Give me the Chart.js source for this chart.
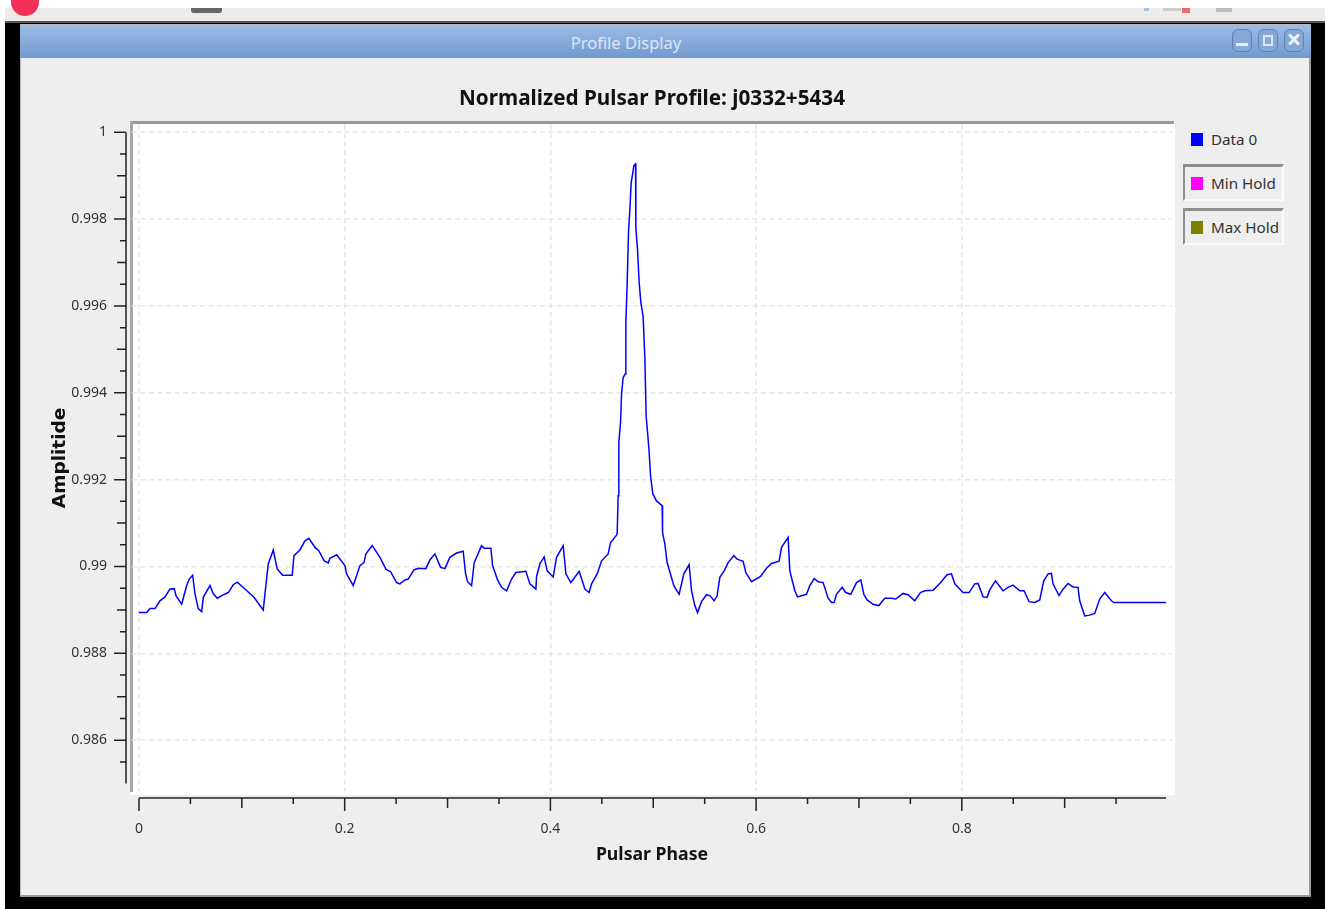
<!DOCTYPE html>
<html>
<head>
<meta charset="utf-8">
<title>Profile Display</title>
<script src="https://cdn.jsdelivr.net/npm/chart.js@4"></script>
<style>
  html, body { margin: 0; padding: 0; background: #000; overflow: hidden; }
  #screen { position: relative; width: 1325px; height: 909px; background: #000; font-family: "Noto Sans", sans-serif; overflow: hidden; }
  #screen div { position: absolute; box-sizing: border-box; }
  #chart { position: absolute; left: 0; top: 0; }
  .win-btn { top: 29px; height: 23px; border: 1.5px solid #5d83b5; border-radius: 6px; background: #86a8d6; }
  .legend-text { left: 1211px; font-size: 15.2px; line-height: 22px; color: #333; white-space: nowrap; }
  .legend-swatch { left: 1191px; width: 12px; height: 13px; }
  .legend-frame { left: 1183px; width: 101px; height: 37px; border-style: solid; border-width: 3px 2px 2px 2px; border-color: #8f8f8f #fafafa #fafafa #8f8f8f; }
</style>
</head>
<body>
<div id="screen">
  <div style="left:5px;top:0;width:1320px;height:8px;background:#fff"></div>
  <div style="left:0;top:0;width:5px;height:909px;background:#fff"></div>
  <div style="left:5px;top:8px;width:1320px;height:13px;background:#ecebe9"></div>
  <div style="left:5px;top:21px;width:1320px;height:2px;background:#555"></div>
  <div style="left:11px;top:0;width:28px;height:16px;border-radius:0 0 14px 14px;background:#f2305a"></div>
  <div style="left:191px;top:8px;width:31px;height:5px;background:#666;border-radius:0 0 3px 3px"></div>
  <div style="left:1144px;top:8px;width:5px;height:3px;background:#a9c3e6"></div>
  <div style="left:1163px;top:8px;width:18px;height:3px;background:#ccc"></div>
  <div style="left:1182px;top:8px;width:8px;height:5px;background:#e66"></div>
  <div style="left:1216px;top:8px;width:16px;height:4px;background:#bbb"></div>

  <div style="left:20px;top:24px;width:1291px;height:873px;background:#eee;border:1px solid #bbb;border-bottom:2px solid #999;border-right:2px solid #999"></div>
  <div style="left:20px;top:25px;width:1291px;height:33px;background:linear-gradient(#9dbce6,#7299d0)"></div>
  <div style="left:20px;top:31px;width:1212px;text-align:center;font-size:16.5px;line-height:24px;color:#dce6f2">Profile Display</div>
  <div class="win-btn" style="left:1232px;width:20px"></div>
  <div style="left:1236px;top:43px;width:12px;height:3px;background:#e8eff8"></div>
  <div class="win-btn" style="left:1258px;width:20px"></div>
  <div style="left:1263px;top:35px;width:10px;height:11px;border:2px solid #dbe6f4"></div>
  <div class="win-btn" style="left:1284px;width:20px;color:#eef3fa;font-size:26px;line-height:19px;text-align:center;font-weight:bold">×</div>

  <div style="left:130px;top:121px;width:1045px;height:674px;background:#fff"></div>
  <div style="left:130px;top:121px;width:1044px;height:3px;background:#999"></div>
  <div style="left:130px;top:121px;width:3px;height:671px;background:#a6a6a6"></div>

  <div class="legend-frame" style="top:164px"></div>
  <div class="legend-frame" style="top:208px"></div>
  <div id="legend"></div>

  <canvas id="chart" width="1325" height="909"></canvas>
</div>

<script>
const chartTitle = 'Normalized Pulsar Profile: j0332+5434';
const xTitle = 'Pulsar Phase';
const yTitle = 'Amplitide';

const seriesNames = ['Data 0', 'Min Hold', 'Max Hold'];
const seriesColors = ['#0000ff', '#ff00ff', '#808000'];

const xMajorTicks = [0, 0.2, 0.4, 0.6, 0.8];
const xMidTicks = [0.1, 0.3, 0.5, 0.7, 0.9];
const xMinorTicks = [0.05, 0.15, 0.25, 0.35, 0.45, 0.55, 0.65, 0.75, 0.85, 0.95];
const yMajorTicks = [0.986, 0.988, 0.99, 0.992, 0.994, 0.996, 0.998, 1];
const yMidTicks = [0.987, 0.989, 0.991, 0.993, 0.995, 0.997, 0.999];
const yMinorTicks = [0.9855, 0.9865, 0.9875, 0.9885, 0.9895, 0.9905, 0.9915, 0.9925, 0.9935, 0.9945, 0.9955, 0.9965, 0.9975, 0.9985, 0.9995];

const phase = [
  0, .00748, .01069, .01555, .02041, .02527, .03013, .03431, .03596, .0415,
  .04636, .04889, .0522, .05443, .05764, .06094, .0625, .06901, .07222, .07611,
  .08038, .0868, .09166, .09555, .10303, .11178, .12082, .12247, .12568, .13054,
  .13443, .13968, .14901, .15066, .15649, .16135, .16524, .17107, .17496, .18011,
  .184, .18565, .19216, .20023, .20188, .2083, .21481, .2187, .22064, .22677,
  .23425, .24008, .24465, .25048, .25369, .25855, .26176, .2673, .27148, .27896,
  .28285, .28771, .29325, .29743, .30229, .3088, .31522, .31755, .31949, .32338,
  .32591, .3331, .33563, .34214, .3438, .34866, .35254, .3574, .36226, .36644,
  .37616, .38005, .38588, .38656, .38977, .39395, .39687, .4027, .406, .41242,
  .41504, .4199, .42797, .43351, .43769, .44002, .44547, .44974, .45616, .45849,
  .46433, .4649, .46588, .46656, .46821, .46918, .47074, .47268, .47336, .47462,
  .47598, .47725, .47852, .48017, .48114, .48279, .48308, .48473, .48629, .48794,
  .49018, .49183, .49309, .49474, .49601, .49737, .49834, .49961, .5032, .50865,
  .50904, .51127, .51351, .52002, .52517, .52974, .53489, .53722, .54043, .54306,
  .54695, .55181, .55502, .5592, .56212, .56474, .56892, .57281, .57835, .58156,
  .58739, .59002, .59556, .60431, .61014, .615, .62239, .62472, .63114, .63279,
  .63765, .64027, .64902, .65223, .65641, .6603, .66516, .67002, .67333, .67585,
  .67818, .68363, .68722, .69208, .69762, .7018, .70472, .70793, .71376, .7193,
  .72511, .73163, .73581, .7429, .74777, .75427, .75981, .76399, .77206, .77857,
  .78566, .78994, .79315, .80122, .80705, .81259, .8158, .82066, .82455, .82717,
  .83271, .8401, .84496, .84982, .85633, .86051, .86537, .87091, .87577, .87965,
  .88383, .88714, .88869, .89452, .89783, .90327, .90813, .91299, .91464, .9195,
  .92436, .92923, .93409, .93895, .94546, .94799, .9985
];
const amplitude = [
  .98894, .98894, .98903, .98903, .98921, .9893, .98948, .98949, .98933, .98913,
  .98956, .98971, .9898, .98937, .98903, .98896, .98929, .98956, .98937, .98927,
  .98933, .9894, .98958, .98964, .98948, .98929, .989, .98937, .99006, .99038,
  .98994, .9898, .9898, .99025, .99038, .99059, .99065, .99044, .99036, .99013,
  .99008, .99019, .99027, .99002, .98983, .98956, .99002, .99009, .99029, .99048,
  .99021, .98994, .98988, .98963, .9896, .98969, .98971, .98992, .98996, .98995,
  .99015, .99029, .98998, .98995, .99021, .99031, .99035, .98983, .98965, .98956,
  .99009, .99048, .99042, .99042, .99002, .98969, .98952, .98944, .98971, .98986,
  .98989, .9896, .98948, .98977, .99006, .99022, .9899, .98976, .99021, .99048,
  .98983, .98963, .98989, .98948, .9894, .9896, .98983, .99013, .99029, .99055,
  .99072, .99075, .99163, .99286, .99332, .99397, .99435, .99443, .99562, .9965,
  .99773, .99821, .99884, .99907, .99923, .99927, .99781, .99729, .99654, .99608,
  .99575, .99481, .99347, .99301, .99263, .99209, .9919, .99167, .99151, .9914,
  .99078, .99052, .99009, .98956, .98936, .98983, .99004, .98944, .9891, .98894,
  .98919, .98935, .98933, .98921, .98933, .98975, .9899, .99009, .99025, .99017,
  .99012, .98986, .98965, .98977, .98996, .99007, .99012, .99044, .99067, .9899,
  .98944, .9893, .98936, .98956, .98972, .98965, .98963, .98927, .98917, .98917,
  .98936, .98952, .9894, .98936, .98963, .98969, .98936, .98923, .98913, .9891,
  .98927, .98927, .98925, .98938, .98935, .98921, .9894, .98944, .98945, .98961,
  .98981, .98983, .9896, .9894, .9894, .9896, .98961, .9893, .98929, .98946,
  .98967, .98944, .98952, .98957, .98944, .98944, .98919, .98917, .98923, .98967,
  .98983, .98984, .9896, .98933, .98946, .98961, .98953, .98952, .98921, .98886,
  .98888, .98892, .98925, .9894, .98921, .98917, .98917
];

function renderLegend() {
  const legend = document.getElementById('legend');
  seriesNames.forEach((name, i) => {
    const swatch = document.createElement('div');
    swatch.className = 'legend-swatch';
    swatch.style.top = (133 + i * 44) + 'px';
    swatch.style.background = seriesColors[i];
    const label = document.createElement('div');
    label.className = 'legend-text';
    label.style.top = (128 + i * 44) + 'px';
    label.textContent = name;
    legend.appendChild(swatch);
    legend.appendChild(label);
  });
}

// the qwt style axes sit away from the plot, so they are drawn here from the scales
const offsetAxes = {
  id: 'offsetAxes',
  afterDraw(chart) {
    const { ctx, scales: { x, y } } = chart;
    const yLine = 126, xLine = 798;
    ctx.save();
    ctx.strokeStyle = '#222';
    ctx.lineWidth = 1.5;
    ctx.beginPath();
    ctx.moveTo(yLine, y.getPixelForValue(1));
    ctx.lineTo(yLine, y.getPixelForValue(0.985));
    ctx.moveTo(x.getPixelForValue(0), xLine);
    ctx.lineTo(1166, xLine);
    const yMark = (list, len) => list.forEach(v => {
      const p = y.getPixelForValue(v);
      ctx.moveTo(yLine, p);
      ctx.lineTo(yLine - len, p);
    });
    const xMark = (list, len) => list.forEach(v => {
      const p = x.getPixelForValue(v);
      ctx.moveTo(p, xLine);
      ctx.lineTo(p, xLine + len);
    });
    yMark(yMajorTicks, 12);
    yMark(yMidTicks, 9);
    yMark(yMinorTicks, 6);
    xMark(xMajorTicks, 13);
    xMark(xMidTicks, 10);
    xMark(xMinorTicks, 6);
    ctx.stroke();
    ctx.restore();
  }
};

function renderChart() {
  const gridStyle = {
    color: '#e6e6e6',
    lineWidth: 1.5,
    drawTicks: false
  };
  const gridBorder = { display: false, dash: [5, 3.5] };
  new Chart(document.getElementById('chart'), {
    type: 'line',
    data: {
      datasets: [
        { label: seriesNames[0], data: phase.map((p, i) => ({ x: p, y: amplitude[i] })), borderColor: seriesColors[0], borderWidth: 1.5, pointRadius: 0, tension: 0 },
        { label: seriesNames[1], data: [], borderColor: seriesColors[1], pointRadius: 0 },
        { label: seriesNames[2], data: [], borderColor: seriesColors[2], pointRadius: 0 }
      ]
    },
    options: {
      responsive: false,
      animation: false,
      layout: { padding: { left: 49, right: 153, top: 0, bottom: 38 } },
      plugins: {
        legend: { display: false },
        tooltip: { enabled: false },
        title: {
          display: true,
          text: chartTitle,
          fullSize: false,
          color: '#111',
          font: { family: '"Noto Sans"', size: 20.7, weight: 'bold' },
          padding: { top: 87, bottom: 13 }
        }
      },
      scales: {
        x: {
          type: 'linear',
          min: -0.0068,
          max: 1.00437,
          border: gridBorder,
          grid: gridStyle,
          afterBuildTicks: s => { s.ticks = xMajorTicks.map(value => ({ value })); },
          afterFit: s => { s.height = 80; },
          ticks: { color: '#333', padding: 30, maxRotation: 0, autoSkip: false, font: { family: '"Noto Sans"', size: 14 }, callback: v => String(v) },
          title: { display: true, text: xTitle, color: '#111', font: { family: '"Noto Sans"', size: 17.7, weight: 'bold' }, padding: { top: 0, bottom: 5 } }
        },
        y: {
          type: 'linear',
          min: 0.98483,
          max: 1.00017,
          border: gridBorder,
          grid: gridStyle,
          afterBuildTicks: s => { s.ticks = yMajorTicks.map(value => ({ value })); },
          afterFit: s => { s.width = 83; },
          ticks: { color: '#333', padding: 25, autoSkip: false, font: { family: '"Noto Sans"', size: 14 }, callback: v => String(v) },
          title: { display: true, text: yTitle, color: '#111', font: { family: '"DejaVu Sans"', size: 18.5, weight: 'bold' }, padding: { top: 0, bottom: 0 } }
        }
      }
    },
    plugins: [offsetAxes]
  });
}

renderLegend();
renderChart();
</script>
</body>
</html>
